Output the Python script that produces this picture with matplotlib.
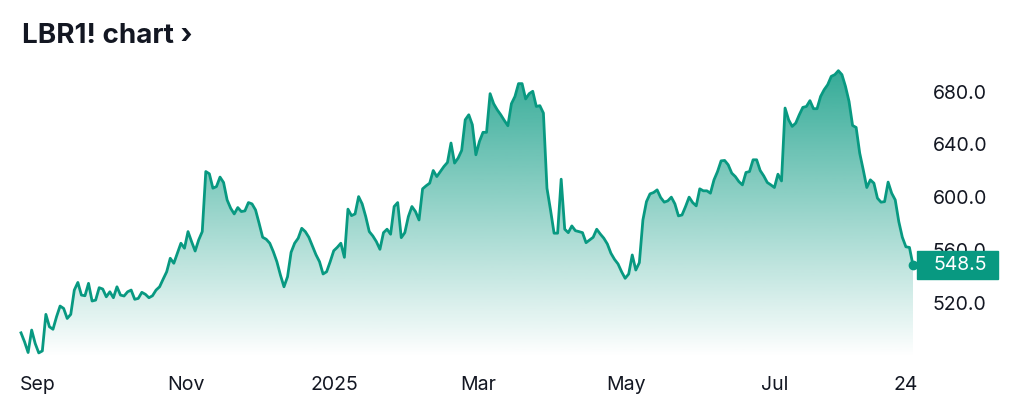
import numpy as np
import pandas as pd
import matplotlib
matplotlib.use('Agg')
import matplotlib.pyplot as plt
import matplotlib.dates as mdates
from matplotlib.colors import to_rgb
from matplotlib.patches import Rectangle
from matplotlib.transforms import blended_transform_factory

plt.rcParams['font.family'] = ['Inter', 'DejaVu Sans']

# chart text
title = 'LBR1! chart \u203a'
start_date = '2024-08-25'
end_date = '2025-08-27'

# daily closes, left to right
closes = [
    497.3, 490.5, 482.4, 499.4, 489.2, 482.1, 483.6, 511.3, 501.9, 500.0,
    509.5, 517.6, 515.8, 508.2, 511.3, 529.7, 535.5, 525.9, 525.4, 534.8,
    521.4, 522.1, 531.5, 530.5, 524.6, 528.4, 523.9, 532.2, 525.9, 525.2,
    528.4, 529.7, 522.7, 523.4, 528.0, 526.5, 523.9, 525.4, 529.7, 532.2,
    538.0, 543.6, 553.8, 550.0, 557.6, 565.2, 561.4, 574.0, 566.4, 559.3,
    567.7, 574.0, 619.5, 617.8, 606.9, 608.1, 615.3, 611.2, 598.0, 591.7,
    587.4, 592.2, 589.2, 589.7, 596.0, 595.0, 590.4, 580.3, 569.7, 568.2,
    565.2, 558.8, 551.2, 541.1, 532.2, 539.8, 558.3, 565.2, 569.0, 576.5,
    574.0, 569.7, 563.1, 556.5,
    551.2, 541.9, 543.6, 551.2, 559.5, 562.1, 565.2, 554.5, 591.0, 586.1,
    587.4, 600.5, 595.0, 585.4, 574.0, 570.7, 566.4, 560.6, 573.2, 575.8,
    572.0, 593.0, 596.0, 569.4, 573.2, 585.4, 593.0, 589.2, 582.8, 606.4,
    608.7, 610.7, 620.3, 615.7, 619.5, 623.3, 626.4, 641.1, 625.9, 629.7,
    635.5, 658.7, 662.5,
    655.0, 632.2, 642.3, 649.2, 649.2, 678.5, 670.9, 666.3, 662.5, 658.2,
    654.2, 670.9, 676.4, 686.1, 686.1, 674.5, 678.5, 680.3, 668.8, 669.4,
    663.8, 606.9, 590.4, 572.8, 572.8, 613.7, 575.8, 573.2, 578.3, 574.7,
    574.0, 573.2, 565.6, 567.7, 569.7, 575.8, 572.2, 569.0, 564.6, 557.6,
    553.0, 549.5,
    543.6, 538.6, 541.9, 556.3, 544.9, 550.5, 582.8, 596.7, 602.6, 603.6,
    605.6, 599.8, 596.3, 597.3, 600.1, 595.0, 585.9, 586.6, 593.0, 600.1,
    596.0, 593.5, 606.4, 604.9, 604.9, 603.1, 613.2, 619.5, 627.6, 627.9,
    624.6, 618.3, 615.7, 611.9, 609.4, 618.8, 619.5, 628.4, 628.4, 620.3,
    616.2, 611.2, 609.4,
    607.4, 617.5, 612.4, 667.6, 658.7, 653.7, 656.2, 662.5, 668.1, 668.8,
    673.2, 667.1, 667.1, 676.4, 681.5, 685.3, 691.6, 692.9, 695.9, 692.9,
    684.0, 672.6, 654.4, 652.9, 633.5, 620.8, 607.4, 613.2, 610.7, 599.3,
    596.3, 596.7, 611.5, 603.1, 598.0, 581.6, 569.7, 562.5, 562.0, 548.5,
]

y_ticks = [520, 560, 600, 640, 680]
x_tick_dates = ['2024-09-01', '2024-11-01', '2025-01-01', '2025-03-01',
                '2025-05-01', '2025-07-01', '2025-08-24']
x_tick_labels = ['Sep', 'Nov', '2025', 'Mar', 'May', 'Jul', '24']

GREEN = '#089981'
TEXT = '#131722'

dates = pd.date_range(start_date, end_date, periods=len(closes))
last = closes[-1]
ymin, ymax = 479, 704

fig = plt.figure(figsize=(10.23, 4.18), dpi=100)
ax = fig.add_axes([21 / 1023, 61 / 418, 892 / 1023, 297 / 418])

ax.plot(dates, closes, color=GREEN, lw=2.0, solid_joinstyle='round',
        zorder=3, clip_on=False)
ax.plot(dates[-1], last, 'o', color=GREEN, ms=6, zorder=4, clip_on=False)

# gradient under the line
fill = ax.fill_between(dates, closes, ymin, facecolor='none', edgecolor='none')
img = np.zeros((256, 1, 4))
img[..., :3] = to_rgb(GREEN)
img[..., 3] = np.linspace(0, 0.85, 256)[:, None]
x0, x1 = mdates.date2num(dates[0]), mdates.date2num(dates[-1])
im = ax.imshow(img, extent=[x0, x1, ymin, ymax], origin='lower',
               aspect='auto', zorder=2)
im.set_clip_path(fill.get_paths()[0], transform=ax.transData)

ax.set_xlim(dates[0], dates[-1])
ax.set_ylim(ymin, ymax)
ax.set_xticks(pd.to_datetime(x_tick_dates))
ax.set_xticklabels(x_tick_labels)
ax.yaxis.tick_right()
ax.set_yticks(y_ticks)
ax.set_yticklabels([f'{v:.1f}' for v in y_ticks])
ax.tick_params(axis='both', length=0, labelsize=14, labelcolor=TEXT)
ax.tick_params(axis='y', pad=14)
ax.tick_params(axis='x', pad=14)
for s in ax.spines.values():
    s.set_visible(False)

# last price tag
tr = blended_transform_factory(ax.transAxes, ax.transData)
ax.add_patch(Rectangle(((917 - 21) / 892, last - 10.6), (998 - 917) / 892, 21.2,
                       transform=tr, color=GREEN, clip_on=False, zorder=5))
ax.text((933 - 21) / 892, last, f'{last:.1f}', transform=tr, ha='left',
        va='center', color='white', fontsize=14, zorder=6, clip_on=False)

fig.text(22 / 1023, 1 - 43 / 418, title, fontsize=20, fontweight='bold',
         color=TEXT, va='baseline')

fig.savefig('out.png', dpi=100)
